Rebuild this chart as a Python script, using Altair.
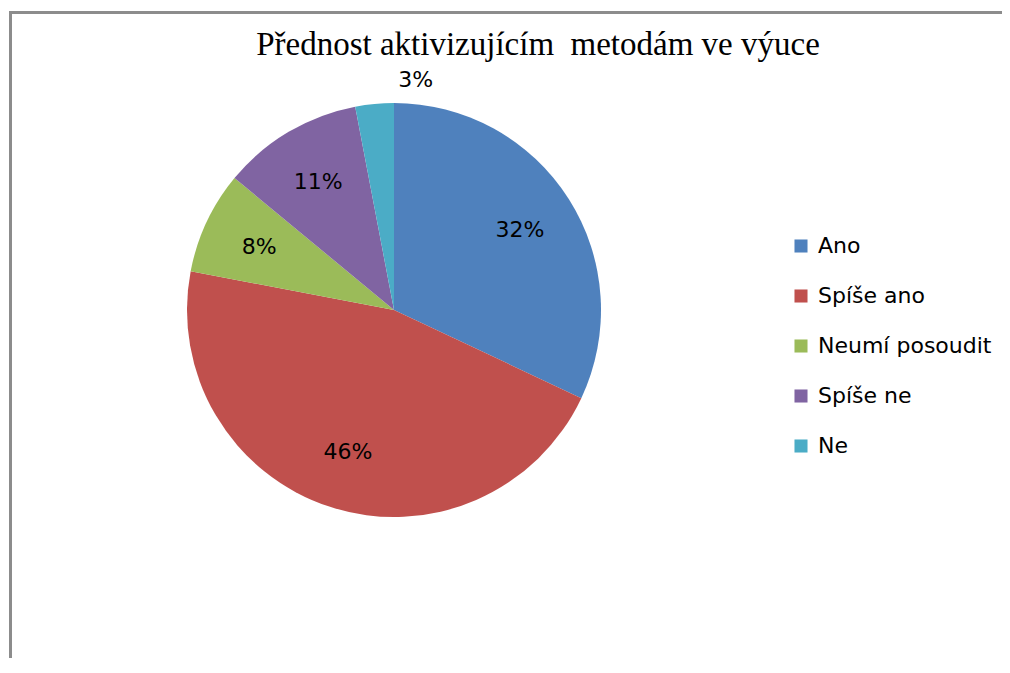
import altair as alt
import pandas as pd

categories = ["Ano", "Spíše ano", "Neumí posoudit", "Spíše ne", "Ne"]
percent = [32, 46, 8, 11, 3]
colors = ["#4F81BD", "#C0504D", "#9BBB59", "#8064A2", "#4BACC6"]
title_text = "Přednost aktivizujícím \u00a0metodám ve výuce"

df = pd.DataFrame({
    "kategorie": categories,
    "podil": percent,
    "poradi": list(range(len(categories))),
})
df["stitek"] = [f"{p}%" for p in percent]

W, H = 994, 650
R = 207
CX, CY = 386, 302
FONT = "DejaVu Sans"

base = alt.Chart(df).encode(
    theta=alt.Theta("podil:Q", stack=True),
    order=alt.Order("poradi:Q"),
)

color = alt.Color(
    "kategorie:N",
    scale=alt.Scale(domain=categories, range=colors),
    sort=categories,
    legend=alt.Legend(
        orient="none", legendX=782, legendY=227, title=None,
        symbolType="square", symbolSize=170, symbolStrokeWidth=0,
        labelFontSize=22, labelFont=FONT, labelColor="black",
        labelLimit=400, rowPadding=28, labelOffset=6,
    ),
)

pie = base.mark_arc(outerRadius=R).encode(
    color=color, x=alt.value(CX), y=alt.value(CY)
)

labels = base.transform_calculate(
    lr=f"datum.podil < 5 ? {R + 24} : {R * 0.72}"
).mark_text(font=FONT, fontSize=22, color="black").encode(
    text="stitek:N",
    radius=alt.Radius("lr:Q", scale=None),
    x=alt.value(CX), y=alt.value(CY),
)

frame_df = pd.DataFrame({"t": [title_text]})
title = alt.Chart(frame_df).mark_text(
    font="Liberation Serif", fontSize=33, color="black", baseline="middle"
).encode(text="t:N", x=alt.value(530), y=alt.value(37))

left_border = alt.Chart(frame_df).mark_rect(color="#8c8c8c", strokeWidth=0).encode(
    x=alt.value(1), x2=alt.value(4), y=alt.value(3), y2=alt.value(H)
)
top_border = alt.Chart(frame_df).mark_rect(color="#8c8c8c", strokeWidth=0).encode(
    x=alt.value(1), x2=alt.value(W), y=alt.value(3), y2=alt.value(6)
)

chart = alt.layer(left_border, top_border, pie, labels, title).properties(
    width=W, height=H,
    autosize=alt.AutoSizeParams(type="none"),
    padding=0,
).configure_view(strokeWidth=0, stroke="transparent")

chart.save("out.html", embed_options={"renderer": "svg", "actions": False})
